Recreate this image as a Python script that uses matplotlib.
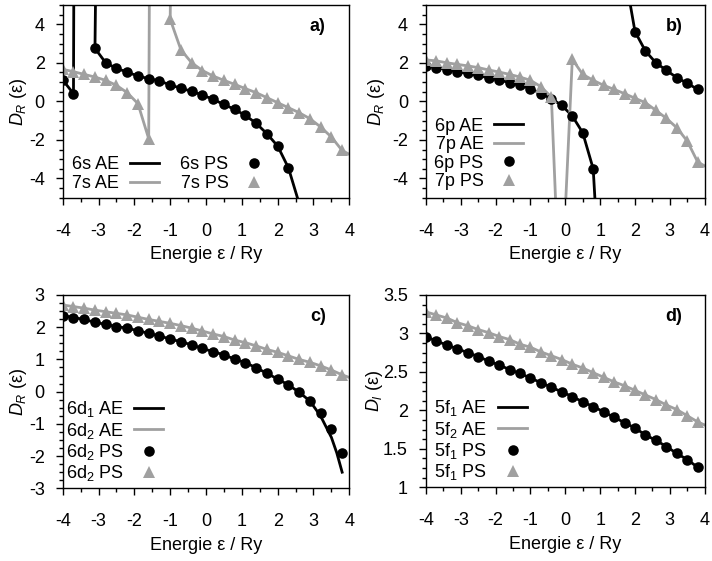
import numpy as np
import matplotlib
matplotlib.use("Agg")
import matplotlib.pyplot as plt
import matplotlib.ticker as ticker

plt.rcParams['font.family'] = ['Liberation Sans', 'DejaVu Sans']
plt.rcParams['font.size'] = 13
plt.rcParams['axes.unicode_minus'] = False
plt.rcParams['mathtext.fontset'] = 'custom'
plt.rcParams['mathtext.rm'] = 'Liberation Sans'
plt.rcParams['mathtext.it'] = 'Liberation Sans:italic'

nan = np.nan
GRAY = '#a0a0a0'

# energy grid of the pseudo (PS) points
energy = [-4.0, -3.7, -3.4, -3.1, -2.8, -2.5, -2.2, -1.9, -1.6, -1.3, -1.0, -0.7, -0.4, -0.1,
          0.2, 0.5, 0.8, 1.1, 1.4, 1.7, 2.0, 2.3, 2.6, 2.9, 3.2, 3.5, 3.8]

# panel a) s channels (nan = off scale)
ps_6s = [1.11, 0.40, nan, 2.75, 2.00, 1.71, 1.52, 1.31, 1.18, 1.06, 0.85, 0.68, 0.52, 0.33,
         0.10, -0.16, -0.42, -0.73, -1.14, -1.68, -2.32, -3.45, nan, nan, nan, nan, nan]
ps_7s = [1.66, 1.54, 1.40, 1.26, 1.09, 0.83, 0.45, -0.12, -1.94, nan, 4.26, 2.67, 2.00, 1.60,
         1.31, 1.09, 0.88, 0.66, 0.45, 0.19, -0.07, -0.33, -0.59, -0.90, -1.33, -1.85, -2.55]
ae_6s_x = [-4.0, -3.7, -3.69, nan, -3.08, -3.1, -2.8, -2.5, -2.2, -1.9, -1.6, -1.3, -1.0, -0.7,
           -0.4, -0.1, 0.2, 0.5, 0.8, 1.1, 1.4, 1.7, 2.0, 2.3, 2.6]
ae_6s_y = [1.11, 0.40, 6.0, nan, 6.0, 2.75, 2.00, 1.71, 1.52, 1.31, 1.18, 1.06, 0.85, 0.68,
           0.52, 0.33, 0.10, -0.16, -0.42, -0.73, -1.14, -1.68, -2.32, -3.45, -5.3]
ae_7s_x = [-4.0, -3.7, -3.4, -3.1, -2.8, -2.5, -2.2, -1.9, -1.6, -1.58, nan, -0.99, -1.0, -0.7,
           -0.4, -0.1, 0.2, 0.5, 0.8, 1.1, 1.4, 1.7, 2.0, 2.3, 2.6, 2.9, 3.2, 3.5, 3.8, 4.0]
ae_7s_y = [1.66, 1.54, 1.40, 1.26, 1.09, 0.83, 0.45, -0.12, -1.94, 6.0, nan, 6.0, 4.26, 2.67,
           2.00, 1.60, 1.31, 1.09, 0.88, 0.66, 0.45, 0.19, -0.07, -0.33, -0.59, -0.90, -1.33,
           -1.85, -2.55, -2.75]

# panel b) p channels
ps_6p = [1.84, 1.75, 1.65, 1.54, 1.45, 1.35, 1.21, 1.11, 0.97, 0.83, 0.66, 0.40, 0.14, -0.21,
         -0.76, -1.63, -3.50, nan, nan, nan, 3.62, 2.61, 2.00, 1.61, 1.23, 0.94, 0.62]
ps_7p = [2.15, 2.10, 2.00, 1.92, 1.84, 1.75, 1.63, 1.52, 1.40, 1.26, 1.09, 0.76, 0.22, nan,
         2.18, 1.40, 1.09, 0.83, 0.62, 0.40, 0.16, -0.07, -0.47, -0.88, -1.37, -2.06, -3.15]
ae_6p_x = [-4.0, -3.7, -3.4, -3.1, -2.8, -2.5, -2.2, -1.9, -1.6, -1.3, -1.0, -0.7, -0.4, -0.1,
           0.2, 0.5, 0.8, 0.88, nan, 1.77, 2.0, 2.3, 2.6, 2.9, 3.2, 3.5, 3.8]
ae_6p_y = [1.84, 1.75, 1.65, 1.54, 1.45, 1.35, 1.21, 1.11, 0.97, 0.83, 0.66, 0.40, 0.14, -0.21,
           -0.76, -1.63, -3.50, -6.0, nan, 6.0, 3.62, 2.61, 2.00, 1.61, 1.23, 0.94, 0.62]
ae_7p_x = [-4.0, -3.7, -3.4, -3.1, -2.8, -2.5, -2.2, -1.9, -1.6, -1.3, -1.0, -0.7, -0.4, -0.26,
           -0.01, 0.2, 0.5, 0.8, 1.1, 1.4, 1.7, 2.0, 2.3, 2.6, 2.9, 3.2, 3.5, 3.8, 4.0]
ae_7p_y = [2.15, 2.10, 2.00, 1.92, 1.84, 1.75, 1.63, 1.52, 1.40, 1.26, 1.09, 0.76, 0.22, -6.0,
           -6.0, 2.18, 1.40, 1.09, 0.83, 0.62, 0.40, 0.16, -0.07, -0.47, -0.88, -1.37, -2.06,
           -3.15, -3.35]

# panel c) d channels
ps_6d1 = [2.36, 2.30, 2.24, 2.15, 2.09, 2.02, 1.97, 1.89, 1.81, 1.73, 1.63, 1.55, 1.45, 1.34,
          1.24, 1.14, 1.01, 0.90, 0.74, 0.57, 0.39, 0.21, -0.02, -0.29, -0.67, -1.17, -1.89]
ps_6d2 = [2.69, 2.64, 2.59, 2.53, 2.48, 2.43, 2.38, 2.31, 2.24, 2.18, 2.12, 2.05, 1.97, 1.88,
          1.79, 1.71, 1.60, 1.52, 1.42, 1.31, 1.22, 1.11, 1.00, 0.91, 0.80, 0.67, 0.52]
ae_6d1_x = energy[:-3] + [3.2, 3.5, 3.65, 3.8]
ae_6d1_y = ps_6d1[:-3] + [-0.76, -1.42, -1.90, -2.50]
ae_6d2_x = energy + [4.0]
ae_6d2_y = ps_6d2 + [0.44]

# panel d) f channels
ps_5f1 = [2.96, 2.90, 2.85, 2.80, 2.75, 2.70, 2.64, 2.59, 2.53, 2.48, 2.42, 2.36, 2.30, 2.24,
          2.18, 2.11, 2.05, 1.98, 1.91, 1.84, 1.77, 1.68, 1.61, 1.53, 1.44, 1.36, 1.26]
ps_5f2 = [3.28, 3.24, 3.20, 3.14, 3.10, 3.05, 3.01, 2.96, 2.92, 2.86, 2.82, 2.76, 2.71, 2.66,
          2.60, 2.55, 2.49, 2.43, 2.37, 2.32, 2.26, 2.20, 2.14, 2.07, 2.01, 1.93, 1.85]
ae_5f1_x = energy
ae_5f1_y = ps_5f1
ae_5f2_x = energy + [4.0]
ae_5f2_y = ps_5f2 + [1.81]

fig = plt.figure(figsize=(7.12, 5.61), dpi=100)
axes_rects = [
    [0.0881, 0.6476, 0.4025, 0.3435],
    [0.5983, 0.6476, 0.3914, 0.3435],
    [0.0881, 0.1296, 0.4025, 0.3446],
    [0.5983, 0.1314, 0.3914, 0.3428],
]

panels = [
    dict(tag='a)', ylim=(-5, 5), ymaj=2, ymin=0.5, ylab='$D_R$ (ε)', ncol=2,
         ae=[(ae_6s_x, ae_6s_y, 'k', '6s AE'), (ae_7s_x, ae_7s_y, GRAY, '7s AE')],
         ps=[(ps_6s, 'k', 'o', '6s PS'), (ps_7s, GRAY, '^', '7s PS')],
         leg=(0.032, 0.03), ylx=-0.116),
    dict(tag='b)', ylim=(-5, 5), ymaj=2, ymin=0.5, ylab='$D_R$ (ε)', ncol=1,
         ae=[(ae_6p_x, ae_6p_y, 'k', '6p AE'), (ae_7p_x, ae_7p_y, GRAY, '7p AE')],
         ps=[(ps_6p, 'k', 'o', '6p PS'), (ps_7p, GRAY, '^', '7p PS')],
         leg=(0.03, 0.04), ylx=-0.14),
    dict(tag='c)', ylim=(-3, 3), ymaj=1, ymin=0.25, ylab='$D_R$ (ε)', ncol=1,
         ae=[(ae_6d1_x, ae_6d1_y, 'k', '6d$_1$ AE'), (ae_6d2_x, ae_6d2_y, GRAY, '6d$_2$ AE')],
         ps=[(ps_6d1, 'k', 'o', '6d$_2$ PS'), (ps_6d2, GRAY, '^', '6d$_2$ PS')],
         leg=(0.01, 0.025), ylx=-0.116),
    dict(tag='d)', ylim=(1, 3.5), ymaj=0.5, ymin=0.125, ylab='$D_l$ (ε)', ncol=1,
         ae=[(ae_5f1_x, ae_5f1_y, 'k', '5f$_1$ AE'), (ae_5f2_x, ae_5f2_y, GRAY, '5f$_2$ AE')],
         ps=[(ps_5f1, 'k', 'o', '5f$_1$ PS'), (ps_5f2, GRAY, '^', '5f$_1$ PS')],
         leg=(0.03, 0.025), ylx=-0.147),
]

for rect, p in zip(axes_rects, panels):
    ax = fig.add_axes(rect)
    handles = []
    for x, y, c, lab in p['ae']:
        h, = ax.plot(x, y, color=c, lw=2.0, label=lab)
        handles.append(h)
    for y, c, m, lab in p['ps']:
        h, = ax.plot(energy, y, linestyle='none', marker=m, color=c,
                     markersize=8.5 if m == '^' else 7.6, markeredgewidth=0, label=lab)
        handles.append(h)

    ax.set_xlim(-4, 4)
    ax.set_ylim(*p['ylim'])
    ax.xaxis.set_major_locator(ticker.MultipleLocator(1))
    ax.xaxis.set_minor_locator(ticker.MultipleLocator(0.5))
    ax.yaxis.set_major_locator(ticker.MultipleLocator(p['ymaj']))
    ax.yaxis.set_minor_locator(ticker.MultipleLocator(p['ymin']))
    ax.tick_params(which='both', direction='out', top=False, right=False, width=1.0)
    ax.tick_params(which='major', length=5)
    ax.tick_params(which='minor', length=3)
    ax.tick_params(axis='x', which='major', pad=13)
    ax.tick_params(axis='y', which='major', pad=8)
    for s in ax.spines.values():
        s.set_linewidth(1.0)
    ax.yaxis.set_major_formatter(ticker.FuncFormatter(lambda v, pos: '%g' % v))

    ax.set_xlabel('Energie ε / Ry')
    ax.xaxis.set_label_coords(0.5, -0.252)
    ax.set_ylabel(p['ylab'])
    ax.yaxis.set_label_coords(p['ylx'], 0.5)

    ax.text(0.89, 0.89, p['tag'], transform=ax.transAxes, ha='center', va='center',
            fontweight='bold', fontsize=13)

    ax.legend(handles=handles, loc='lower left', bbox_to_anchor=p['leg'], ncol=p['ncol'],
              frameon=False, markerfirst=False, handlelength=1.6, handletextpad=0.6,
              columnspacing=1.2, labelspacing=0.08, borderpad=0, borderaxespad=0,
              fontsize=13)

plt.savefig('out.png', dpi=100)
